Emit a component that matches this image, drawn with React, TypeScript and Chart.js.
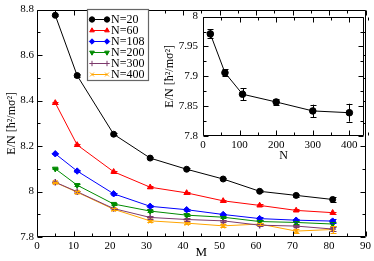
import React, { useEffect, useRef } from "react";
import { Chart, registerables } from "chart.js";
import { drawPoint } from "chart.js/helpers";

Chart.register(...registerables);

const FONT = "'Liberation Serif', 'DejaVu Serif', 'Times New Roman', serif";

// Main chart data
const M = [5, 11, 21, 31, 41, 51, 61, 71, 81];
const E20 = [8.775, 8.51, 8.252, 8.147, 8.098, 8.055, 8.001, 7.983, 7.965];
const E60 = [8.39, 8.205, 8.087, 8.019, 7.994, 7.959, 7.939, 7.917, 7.907];
const E108 = [8.166, 8.09, 7.99, 7.935, 7.92, 7.899, 7.881, 7.874, 7.87];
const E200 = [8.1, 8.028, 7.945, 7.914, 7.896, 7.887, 7.868, 7.864, 7.857];
const E300 = [8.041, 7.999, 7.925, 7.886, 7.877, 7.871, 7.852, 7.848, 7.835];
const E400 = [8.04, 7.997, 7.922, 7.871, 7.861, 7.849, 7.857, 7.826, 7.833];
const ERR20 = [0.004, 0.005, 0.004, 0.004, 0.004, 0.004, 0.004, 0.005, 0.012];
const ERR60 = [0.003, 0.005, 0.004, 0.004, 0.004, 0.004, 0.004, 0.004, 0.005];
const ERR108 = [0.003, 0.004, 0.004, 0.004, 0.004, 0.004, 0.005, 0.005, 0.008];
const ERR200 = [0.003, 0.004, 0.004, 0.004, 0.004, 0.005, 0.005, 0.005, 0.008];
const ERR300 = [0.003, 0.004, 0.004, 0.005, 0.005, 0.005, 0.005, 0.006, 0.01];
const ERR400 = [0.003, 0.004, 0.004, 0.005, 0.005, 0.006, 0.005, 0.008, 0.015];
const LABELS = ["N=20", "N=60", "N=108", "N=200", "N=300", "N=400"];
const COLORS = ["#000000", "#ff0000", "#0000ff", "#008b00", "#7d3a6d", "#ffa500"];
const STYLES = ["circle", "triangle", "rectRot", "triangle", "cross", "crossRot"];
const ROTATIONS = [0, 0, 0, 180, 0, 0];
const SERIES = [E20, E60, E108, E200, E300, E400];
const ERRS = [ERR20, ERR60, ERR108, ERR200, ERR300, ERR400];
const X_TICKS = [0, 90, 10, 5];
const Y_TICKS = [7.8, 8.8, 0.2, 0.1];

// Inset data
const N_VALS = [20, 60, 108, 200, 300, 400];
const E_INSET = [7.971, 7.906, 7.87, 7.857, 7.842, 7.839];
const ERR_INSET = [0.0075, 0.0055, 0.01, 0.005, 0.0105, 0.015];

const fmt = (v: number) => String(Math.round(v * 1000) / 1000);

const errorBars = {
  id: "errorBars",
  afterDatasetsDraw(chart: any) {
    const { ctx } = chart;
    const y = chart.scales.y;
    chart.data.datasets.forEach((ds: any, di: number) => {
      if (!ds.errors) return;
      const meta = chart.getDatasetMeta(di);
      ctx.save();
      ctx.strokeStyle = ds.borderColor;
      ctx.lineWidth = 1;
      meta.data.forEach((pt: any, i: number) => {
        const v = ds.data[i].y;
        const e = ds.errors[i];
        const px = Math.round(pt.x) + 0.5;
        const y1 = y.getPixelForValue(v + e);
        const y2 = y.getPixelForValue(v - e);
        ctx.beginPath();
        ctx.moveTo(px, y1);
        ctx.lineTo(px, y2);
        ctx.moveTo(px - 3, Math.round(y1) + 0.5);
        ctx.lineTo(px + 3, Math.round(y1) + 0.5);
        ctx.moveTo(px - 3, Math.round(y2) + 0.5);
        ctx.lineTo(px + 3, Math.round(y2) + 0.5);
        ctx.stroke();
      });
      ctx.restore();
    });
  },
};

const framePlugin = {
  id: "frame",
  beforeDraw(chart: any, _a: any, opts: any) {
    if (!opts.fill) return;
    const { ctx, chartArea: a } = chart;
    ctx.save();
    ctx.fillStyle = "#fff";
    ctx.fillRect(a.left, a.top, a.right - a.left, a.bottom - a.top);
    ctx.restore();
  },
  afterDraw(chart: any, _a: any, opts: any) {
    const { ctx, chartArea: a } = chart;
    const { x, y } = chart.scales;
    const L = Math.round(a.left) + 0.5;
    const R = Math.round(a.right) - 0.5;
    const T = Math.round(a.top) + 0.5;
    const B = Math.round(a.bottom) - 0.5;
    ctx.save();
    ctx.strokeStyle = "#000";
    ctx.lineWidth = 1;
    ctx.beginPath();
    ctx.rect(L, T, R - L, B - T);
    const [xmin, xmax, xmaj, xmin2] = opts.xt;
    const nx = Math.round((xmax - xmin) / xmin2);
    for (let i = 0; i <= nx; i++) {
      const v = xmin + i * xmin2;
      const major = Math.abs(v / xmaj - Math.round(v / xmaj)) < 1e-6;
      const len = major ? 5 : 3;
      const px = Math.round(x.getPixelForValue(v)) + 0.5;
      ctx.moveTo(px, B);
      ctx.lineTo(px, B - len);
      ctx.moveTo(px, T);
      ctx.lineTo(px, T + len);
    }
    const [ymin, ymax, ymaj, ymin2] = opts.yt;
    const ny = Math.round((ymax - ymin) / ymin2);
    for (let i = 0; i <= ny; i++) {
      const v = ymin + i * ymin2;
      const major = Math.abs(v / ymaj - Math.round(v / ymaj)) < 1e-6;
      const len = major ? 5 : 3;
      const py = Math.round(y.getPixelForValue(v)) + 0.5;
      ctx.moveTo(L, py);
      ctx.lineTo(L + len, py);
      ctx.moveTo(R, py);
      ctx.lineTo(R - len, py);
    }
    ctx.stroke();
    ctx.restore();
  },
};

const legendPlugin = {
  id: "boxLegend",
  afterDraw(chart: any, _a: any, opts: any) {
    if (!opts.show) return;
    const { ctx } = chart;
    ctx.save();
    ctx.fillStyle = "#fff";
    ctx.fillRect(87.5, 9.5, 61, 71);
    ctx.strokeStyle = "#666";
    ctx.lineWidth = 1.2;
    ctx.strokeRect(87.5, 9.5, 61, 71);
    chart.data.datasets.forEach((ds: any, i: number) => {
      const yy = 19 + i * 11;
      ctx.strokeStyle = ds.borderColor;
      ctx.fillStyle = ds.borderColor;
      ctx.lineWidth = 1;
      ctx.beginPath();
      ctx.moveTo(92, yy + 0.5);
      ctx.lineTo(107, yy + 0.5);
      ctx.stroke();
      [92, 107].forEach((px) => {
        drawPoint(
          ctx,
          {
            pointStyle: ds.pointStyle,
            rotation: ds.pointRotation || 0,
            radius: 2.7,
            borderWidth: ds.pointBorderWidth,
          } as any,
          px,
          yy + 0.5
        );
      });
      ctx.fillStyle = "#000";
      ctx.font = `12px ${FONT}`;
      ctx.textBaseline = "middle";
      ctx.textAlign = "left";
      ctx.fillText(ds.label, 111, yy + 1);
    });
    ctx.restore();
  },
};

export default function App() {
  const mainRef = useRef<HTMLCanvasElement>(null);
  const insetRef = useRef<HTMLCanvasElement>(null);

  useEffect(() => {
    const datasets = SERIES.map((vals, si) => ({
      label: LABELS[si],
      data: M.map((m, i) => ({ x: m, y: vals[i] })),
      errors: ERRS[si],
      borderColor: COLORS[si],
      backgroundColor: COLORS[si],
      pointBackgroundColor: COLORS[si],
      pointBorderColor: COLORS[si],
      borderWidth: 1,
      pointStyle: STYLES[si],
      pointRotation: ROTATIONS[si],
      pointRadius: si === 0 ? 3 : 3.2,
      pointBorderWidth: STYLES[si].startsWith("cross") ? 1.5 : 1,
      tension: 0,
      fill: false,
    }));

    const main = new Chart(mainRef.current!, {
      type: "line",
      data: { datasets } as any,
      options: {
        animation: false,
        responsive: false,
        maintainAspectRatio: false,
        layout: { padding: { top: 7, right: 7, left: 0, bottom: 0 } },
        plugins: {
          legend: { display: false },
          tooltip: { enabled: false },
          frame: { xt: X_TICKS, yt: Y_TICKS, fill: false },
          boxLegend: { show: true },
        } as any,
        scales: {
          x: {
            type: "linear",
            min: X_TICKS[0],
            max: X_TICKS[1],
            ticks: {
              stepSize: X_TICKS[2],
              color: "#000",
              font: { family: FONT, size: 11 },
              padding: 3,
              maxRotation: 0,
              autoSkip: false,
              callback: (v: any) => fmt(v),
            },
            grid: { display: false, drawTicks: false },
            border: { display: false },
            title: {
              display: true,
              text: "M",
              color: "#000",
              font: { family: FONT, size: 13 },
              padding: { top: 0, bottom: 1 },
            },
            afterFit: (s: any) => {
              s.height = 24;
            },
          },
          y: {
            type: "linear",
            min: Y_TICKS[0],
            max: Y_TICKS[1],
            ticks: {
              stepSize: Y_TICKS[2],
              color: "#000",
              font: { family: FONT, size: 11 },
              padding: 3,
              autoSkip: false,
              callback: (v: any) => fmt(v),
            },
            grid: { display: false, drawTicks: false },
            border: { display: false },
            title: {
              display: true,
              text: "E/N [ħ²/mσ²]",
              color: "#000",
              font: { family: FONT, size: 12 },
              padding: { top: 5, bottom: 0 },
            },
            afterFit: (s: any) => {
              s.width = 37;
            },
          },
        },
      } as any,
      plugins: [errorBars, framePlugin, legendPlugin],
    });

    const inset = new Chart(insetRef.current!, {
      type: "line",
      data: {
        datasets: [
          {
            label: "inset",
            data: N_VALS.map((n, i) => ({ x: n, y: E_INSET[i] })),
            errors: ERR_INSET,
            borderColor: "#000",
            backgroundColor: "#000",
            borderWidth: 1,
            pointStyle: "circle",
            pointRadius: 3.3,
            pointBorderWidth: 1,
            tension: 0,
          },
        ],
      } as any,
      options: {
        animation: false,
        responsive: false,
        maintainAspectRatio: false,
        layout: { padding: { top: 10, right: 8, left: 0, bottom: 0 } },
        plugins: {
          legend: { display: false },
          tooltip: { enabled: false },
          frame: { xt: [0, 440, 100, 50], yt: [7.8, 8.0, 0.05, 0.025], fill: true },
          boxLegend: { show: false },
        } as any,
        scales: {
          x: {
            type: "linear",
            min: 0,
            max: 440,
            ticks: {
              stepSize: 100,
              includeBounds: false,
              color: "#000",
              font: { family: FONT, size: 11 },
              padding: 3,
              maxRotation: 0,
              autoSkip: false,
              callback: (v: any) => fmt(v),
            },
            grid: { display: false, drawTicks: false },
            border: { display: false },
            title: {
              display: true,
              text: "N",
              color: "#000",
              font: { family: FONT, size: 12 },
              padding: { top: 0, bottom: 2 },
            },
            afterFit: (s: any) => {
              s.height = 29;
            },
          },
          y: {
            type: "linear",
            min: 7.8,
            max: 8.0,
            ticks: {
              stepSize: 0.05,
              color: "#000",
              font: { family: FONT, size: 11 },
              padding: 5,
              autoSkip: false,
              callback: (v: any) => fmt(v),
            },
            grid: { display: false, drawTicks: false },
            border: { display: false },
            title: {
              display: true,
              text: "E/N [ħ²/mσ²]",
              color: "#000",
              font: { family: FONT, size: 12 },
              padding: { top: 3, bottom: 0 },
            },
            afterFit: (s: any) => {
              s.width = 43;
            },
          },
        },
      } as any,
      plugins: [framePlugin, errorBars],
    });

    return () => {
      main.destroy();
      inset.destroy();
    };
  }, []);

  return (
    <div style={{ position: "absolute", left: 0, top: 0, width: 374, height: 261, background: "#fff" }}>
      <canvas
        ref={mainRef}
        width={374}
        height={261}
        style={{ position: "absolute", left: 0, top: 0, width: 374, height: 261 }}
      />
      <canvas
        ref={insetRef}
        width={212}
        height={160}
        style={{ position: "absolute", left: 160, top: 5, width: 212, height: 160 }}
      />
    </div>
  );
}
